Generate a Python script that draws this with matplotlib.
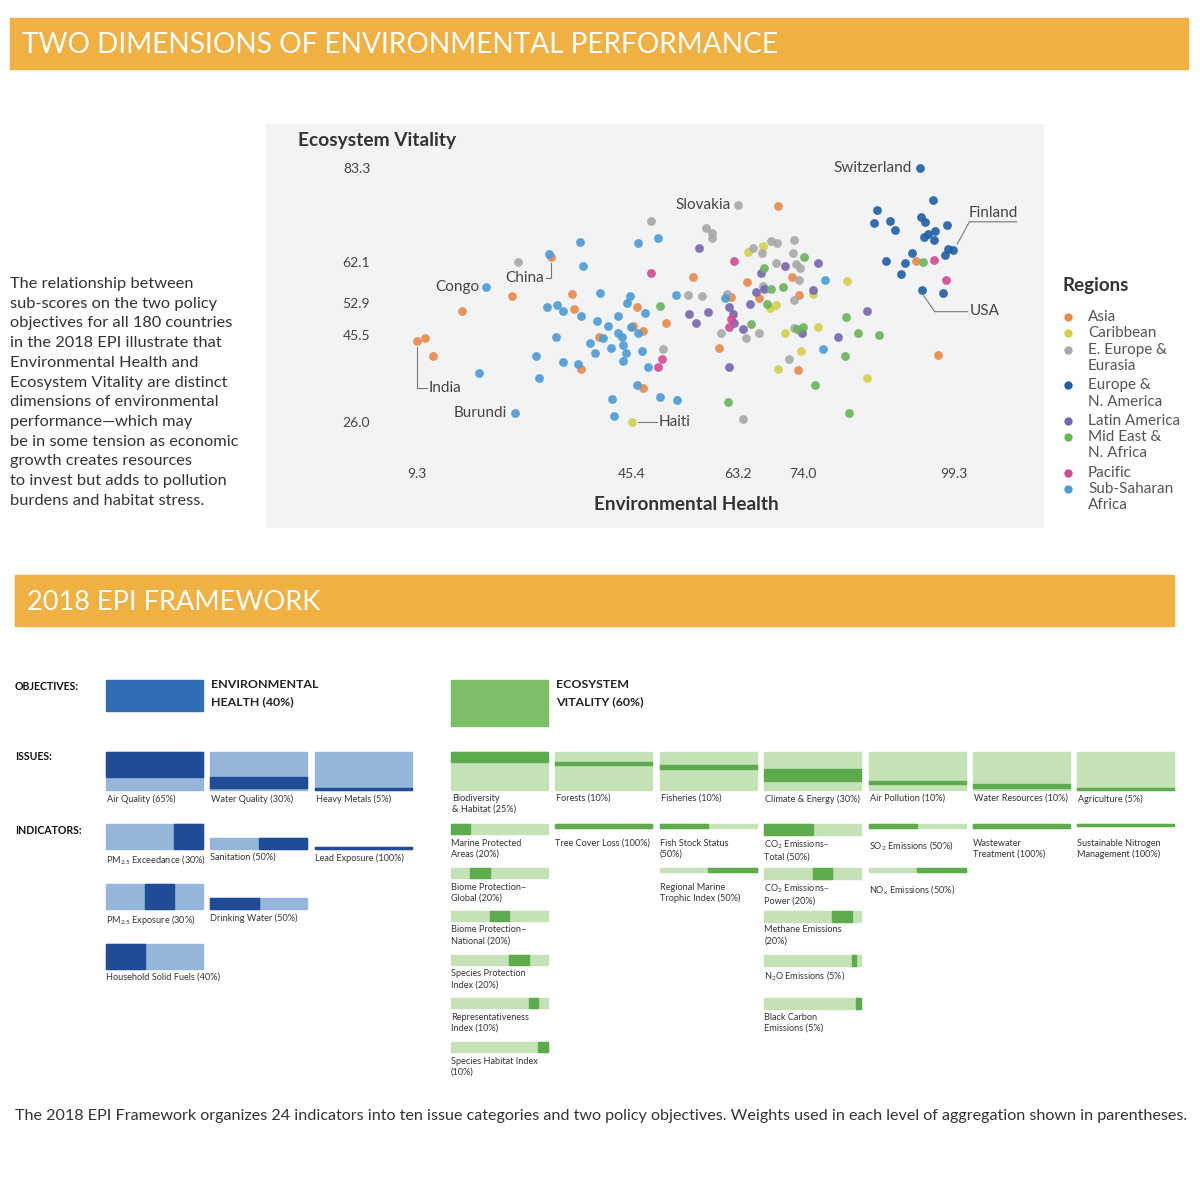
import matplotlib
matplotlib.use('Agg')
import matplotlib.pyplot as plt
from matplotlib.patches import Rectangle

plt.rcParams['font.family'] = ['Lato', 'DejaVu Sans']
plt.rcParams['mathtext.default'] = 'regular'

# ---------------- scatter data (Environmental Health, Ecosystem Vitality) ----------------
asia_x = [9.3, 10.6, 12.0, 16.9, 25.2, 31.8, 35.3, 35.6, 36.8, 39.8, 45.5, 46.2, 47.2, 47.2, 51.1,
          55.6, 60.0, 62.0, 64.7, 66.7, 69.9, 72.2, 73.2, 73.4, 93.0, 96.7]
asia_y = [44.3, 44.9, 40.9, 51.0, 54.4, 63.2, 54.9, 51.5, 37.9, 45.2, 47.6, 51.9, 46.5, 33.6, 48.3,
          58.7, 42.7, 54.2, 57.6, 54.0, 74.7, 58.7, 37.7, 54.6, 62.3, 41.1]
carib_x = [45.4, 64.8, 67.4, 68.5, 69.5, 69.9, 71.0, 73.7, 75.7, 76.6, 81.5, 84.8]
carib_y = [26.0, 64.3, 65.7, 51.7, 52.4, 37.9, 46.1, 42.0, 54.9, 47.4, 57.8, 35.9]
eeur_x = [26.2, 48.6, 50.6, 54.8, 57.1, 57.8, 58.8, 58.8, 60.3, 61.3, 63.2, 64.5, 65.7, 66.7,
          67.2, 67.4, 68.7, 69.7, 64.0, 69.5, 71.7, 72.6, 72.4, 72.9, 73.6, 73.4, 72.6, 72.6]
eeur_y = [62.1, 71.3, 42.4, 54.6, 54.4, 69.8, 68.6, 67.5, 46.1, 54.9, 74.9, 44.9, 65.2, 46.1,
          64.1, 56.7, 66.8, 66.4, 26.6, 61.9, 40.2, 67.0, 64.1, 61.6, 60.7, 58.0, 53.5, 47.2]
eur_x = [93.7, 95.9, 86.5, 86.0, 88.7, 89.5, 93.9, 94.5, 98.2, 95.0, 96.2, 94.4, 96.1, 98.4,
         99.3, 97.9, 92.4, 88.0, 91.2, 90.5, 94.0, 97.6]
eur_y = [83.3, 76.1, 73.8, 70.9, 71.3, 69.3, 72.2, 71.1, 70.4, 68.4, 69.1, 67.7, 67.0, 65.0,
         64.8, 63.7, 64.1, 62.3, 61.9, 59.4, 55.8, 55.1]
latam_x = [56.6, 67.0, 67.5, 66.2, 71.0, 76.6, 54.9, 56.1, 58.1, 61.7, 62.3, 62.5, 64.0, 65.2,
           61.7, 73.9, 75.7, 79.9, 84.8]
latam_y = [65.2, 59.6, 56.0, 55.3, 61.2, 61.9, 50.3, 48.3, 50.8, 51.9, 50.3, 48.3, 47.0, 52.6,
           38.4, 46.1, 55.8, 45.2, 51.0]
mena_x = [50.1, 61.5, 65.3, 67.5, 68.0, 68.7, 70.7, 74.2, 74.1, 76.1, 81.1, 81.3, 81.8, 83.3,
          86.8, 94.2, 73.1]
mena_y = [52.2, 30.5, 48.1, 60.7, 52.6, 56.0, 56.4, 63.2, 47.4, 34.3, 40.9, 49.7, 28.0, 46.1,
          45.6, 62.1, 47.0]
pac_x = [48.6, 49.7, 50.4, 61.7, 62.0, 62.5, 96.1, 98.1]
pac_y = [59.6, 38.4, 40.2, 47.4, 49.2, 62.3, 62.5, 58.0]
ssa_x = [20.9, 25.7, 19.7, 29.3, 29.8, 31.1, 31.4, 32.6, 32.8, 33.8, 33.8, 36.3, 36.7, 37.2,
         36.8, 38.3, 39.2, 39.5, 40.0, 40.5, 41.3, 41.9, 42.0, 42.4, 43.0, 43.0, 43.7, 43.9,
         44.4, 43.9, 44.5, 45.0, 45.2, 46.4, 46.4, 46.2, 47.1, 47.6, 48.1, 49.7, 50.1, 52.9,
         52.8, 61.0, 77.8, 77.4]
ssa_y = [56.4, 28.0, 37.0, 40.9, 35.9, 51.9, 63.9, 45.2, 52.4, 51.0, 39.5, 39.1, 66.6, 61.2,
         49.9, 43.8, 41.5, 48.8, 55.1, 44.9, 47.6, 42.7, 31.2, 27.3, 49.9, 46.1, 45.2, 43.3,
         41.5, 39.7, 52.8, 54.4, 47.4, 66.4, 46.1, 34.3, 42.0, 50.6, 38.4, 67.5, 31.6, 30.9,
         54.6, 54.0, 58.0, 42.4]

region_names = ['Asia', 'Caribbean', 'E. Europe &\nEurasia', 'Europe &\nN. America',
                'Latin America', 'Mid East &\nN. Africa', 'Pacific', 'Sub-Saharan\nAfrica']
region_x = [asia_x, carib_x, eeur_x, eur_x, latam_x, mena_x, pac_x, ssa_x]
region_y = [asia_y, carib_y, eeur_y, eur_y, latam_y, mena_y, pac_y, ssa_y]
region_colors = ['#E8884A', '#D5CF4B', '#A8A8A8', '#1F5FA6', '#7765AE', '#69B356', '#D24A93', '#4A9BD6']

x_ticks = [9.3, 45.4, 63.2, 74.0, 99.3]
y_ticks = [83.3, 62.1, 52.9, 45.5, 26.0]

# labelled countries: name, region index, point index
labels = [('Switzerland', 3, 0), ('Slovakia', 2, 10), ('Finland', 3, 14), ('USA', 3, 20),
          ('China', 0, 5), ('Congo', 7, 0), ('India', 0, 0), ('Burundi', 7, 1), ('Haiti', 1, 0)]

# ---------------- framework data ----------------
eh_issues = ['Air Quality (65%)', 'Water Quality (30%)', 'Heavy Metals (5%)']
eh_issue_w = [65, 30, 5]
eh_inds = [['PM$_{2.5}$ Exceedance (30%)', 'PM$_{2.5}$ Exposure (30%)', 'Household Solid Fuels (40%)'],
           ['Sanitation (50%)', 'Drinking Water (50%)'],
           ['Lead Exposure (100%)']]
eh_ind_w = [[30, 30, 40], [50, 50], [100]]

ev_issues = ['Biodiversity\n& Habitat (25%)', 'Forests (10%)', 'Fisheries (10%)',
             'Climate & Energy (30%)', 'Air Pollution (10%)', 'Water Resources (10%)', 'Agriculture (5%)']
ev_issue_w = [25, 10, 10, 30, 10, 10, 5]
ev_inds = [['Marine Protected\nAreas (20%)', 'Biome Protection–\nGlobal (20%)',
            'Biome Protection–\nNational (20%)', 'Species Protection\nIndex (20%)',
            'Representativeness\nIndex (10%)', 'Species Habitat Index\n(10%)'],
           ['Tree Cover Loss (100%)'],
           ['Fish Stock Status\n(50%)', 'Regional Marine\nTrophic Index (50%)'],
           ['CO$_2$ Emissions–\nTotal (50%)', 'CO$_2$ Emissions–\nPower (20%)',
            'Methane Emissions\n(20%)', 'N$_2$O Emissions (5%)', 'Black Carbon\nEmissions (5%)'],
           ['SO$_2$ Emissions (50%)', 'NO$_x$ Emissions (50%)'],
           ['Wastewater\nTreatment (100%)'],
           ['Sustainable Nitrogen\nManagement (100%)']]
ev_ind_w = [[20, 20, 20, 20, 10, 10], [100], [50, 50], [50, 20, 20, 5, 5], [50, 50], [100], [100]]

objective_w = [40, 60]

paragraph = ['The relationship between', 'sub-scores on the two policy',
             'objectives for all 180 countries', 'in the 2018 EPI illustrate that',
             'Environmental Health and', 'Ecosystem Vitality are distinct',
             'dimensions of environmental', 'performance—which may',
             'be in some tension as economic', 'growth creates resources',
             'to invest but adds to pollution', 'burdens and habitat stress.']

TXT = '#333333'
BAND = '#F0B142'

fig = plt.figure(figsize=(12, 12), dpi=100)
canvas = fig.add_axes([0, 0, 1, 1])
canvas.set_xlim(0, 1200)
canvas.set_ylim(1200, 0)
canvas.axis('off')

# header bands
canvas.add_patch(Rectangle((10, 18), 1178, 51, color=BAND))
canvas.text(22, 45, 'TWO DIMENSIONS OF ENVIRONMENTAL PERFORMANCE', color='white',
            fontsize=20.2, va='center', ha='left')
canvas.add_patch(Rectangle((15, 575), 1159, 51, color=BAND))
canvas.text(27, 602, '2018 EPI FRAMEWORK', color='white', fontsize=19.5, va='center', ha='left')

for i, line in enumerate(paragraph):
    canvas.text(10, 284 + 19.7 * i, line, fontsize=11.8, color=TXT, va='center')

canvas.text(15, 1116, 'The 2018 EPI Framework organizes 24 indicators into ten issue categories and two '
            'policy objectives. Weights used in each level of aggregation shown in parentheses.',
            fontsize=11.6, color=TXT, va='center')

# legend
canvas.text(1062, 285, 'Regions', fontsize=13.5, fontweight='bold', color=TXT, va='center')
ly = 317
for name, col in zip(region_names, region_colors):
    canvas.scatter([1068], [ly], s=36, color=col, linewidths=0)
    lines = name.split('\n')
    for k, ln in enumerate(lines):
        canvas.text(1088, ly + 16.3 * k, ln, fontsize=11, color='#555555', va='center')
    ly += 16.3 * len(lines) + (3 if len(lines) > 1 else 0)

# ---------------- scatter panel ----------------
ax = fig.add_axes([266 / 1200, 1 - 528 / 1200, 778 / 1200, 404 / 1200])
ax.set_facecolor('#F2F3F5')
ax.set_xlim(-16.0, 114.5)
ax.set_ylim(2.0, 93.2)
for s in ax.spines.values():
    s.set_visible(False)
ax.set_xticks(x_ticks)
ax.set_xticklabels([f'{v:.1f}' for v in x_ticks])
ax.set_yticks(y_ticks)
ax.set_yticklabels([f'{v:.1f}' for v in y_ticks])
ax.tick_params(length=0, labelsize=10, labelcolor='#444444')
ax.tick_params(axis='y', pad=-75)
ax.tick_params(axis='x', pad=-43)

for xs, ys, col in zip(region_x, region_y, region_colors):
    ax.scatter(xs, ys, s=40, color=col, alpha=0.9, linewidths=0, zorder=3)

ax.text(0.041, 0.960, 'Ecosystem Vitality', transform=ax.transAxes, fontsize=13.8,
        fontweight='bold', color=TXT, va='center')
ax.text(0.540, 0.057, 'Environmental Health', transform=ax.transAxes, fontsize=13.6,
        fontweight='bold', color=TXT, va='center', ha='center')

# label offsets in pixels (dx, dy up), and leader polylines relative to the point
label_off = {'Switzerland': (-8, 0, 'right'), 'Slovakia': (-7, 0, 'right'),
             'Congo': (-7, 0, 'right'), 'Burundi': (-8, 0, 'right'),
             'Haiti': (27, 0, 'left'), 'India': (12, -47, 'left'),
             'China': (-7, -21, 'right'), 'Finland': (15, 37, 'left'), 'USA': (48, -21, 'left')}
leaders = {'Haiti': [(6, 0), (25, 0)], 'India': [(0, -6), (0, -47), (10, -47)],
           'China': [(0, -6), (0, -21), (-5, -21)], 'Finland': [(4, 6), (16, 28), (63, 28)],
           'USA': [(2, -6), (13, -22), (46, -22)]}

for name, r, k in labels:
    px, py = region_x[r][k], region_y[r][k]
    dx, dy, ha = label_off[name]
    ax.annotate(name, (px, py), xytext=(dx, dy), textcoords='offset pixels', ha=ha, va='center',
                fontsize=11, color='#444444')
    if name in leaders:
        X, Y = ax.transData.transform((px, py))
        pts = ax.transData.inverted().transform([(X + ox, Y + oy) for ox, oy in leaders[name]])
        ax.plot(pts[:, 0], pts[:, 1], color='#777777', lw=0.8, zorder=2)

# ---------------- framework ----------------
COL_W = 97
COL_STEP = 104.4
ISSUE_TOP = 752
ISSUE_H = 38
OBJ_SCALE = 0.77
FS = 6.6

canvas.text(15, 686, 'OBJECTIVES:', fontsize=7.6, fontweight='bold', color='#111111', va='center')
canvas.text(15, 757, 'ISSUES:', fontsize=7.6, fontweight='bold', color='#111111', va='center')
canvas.text(15, 830, 'INDICATORS:', fontsize=7.6, fontweight='bold', color='#111111', va='center')


def draw_objective(x0, title, ow, issues, issue_w, inds, ind_w, c_obj, c_dark, c_light,
                   reverse, row_pos, bottom_align):
    canvas.add_patch(Rectangle((x0, 680), COL_W, ow * OBJ_SCALE, color=c_obj))
    canvas.text(x0 + 105, 679, title, fontsize=8.9, fontweight='bold', color='#222222',
                va='top', linespacing=1.65)
    cum = 0
    for i, (name, w) in enumerate(zip(issues, issue_w)):
        x = x0 + i * COL_STEP
        canvas.add_patch(Rectangle((x, ISSUE_TOP), COL_W, ISSUE_H, color=c_light))
        canvas.add_patch(Rectangle((x, ISSUE_TOP + ISSUE_H * cum / 100), COL_W,
                                   ISSUE_H * w / 100, color=c_dark))
        cum += w
        canvas.text(x + 1, ISSUE_TOP + ISSUE_H + 4, name, fontsize=FS, color=TXT, va='top',
                    linespacing=1.25)
        h = ISSUE_H * w / 100
        ws = ind_w[i]
        for j, (iname, iw) in enumerate(zip(inds[i], ws)):
            start = sum(ws[j + 1:]) if reverse else sum(ws[:j])
            if bottom_align:
                top = row_pos[j] - h
                ly = row_pos[j] + 4
            else:
                top = row_pos[j]
                ly = row_pos[j] + 14.5
            canvas.add_patch(Rectangle((x, top), COL_W, h, color=c_light))
            canvas.add_patch(Rectangle((x + COL_W * start / 100, top), COL_W * iw / 100, h,
                                       color=c_dark))
            canvas.text(x, ly, iname, fontsize=FS, color=TXT, va='top', linespacing=1.25)


draw_objective(106, 'ENVIRONMENTAL\nHEALTH (40%)', objective_w[0], eh_issues, eh_issue_w,
               eh_inds, eh_ind_w, '#2F6EB5', '#1F4C95', '#94B6DA', True, [849, 909, 969], True)
draw_objective(451, 'ECOSYSTEM\nVITALITY (60%)', objective_w[1], ev_issues, ev_issue_w,
               ev_inds, ev_ind_w, '#7FBF6A', '#5EAB4D', '#C4E2B5', False,
               [824, 868, 911, 955, 998, 1042], False)

fig.savefig('out.png', dpi=100, facecolor='white')
